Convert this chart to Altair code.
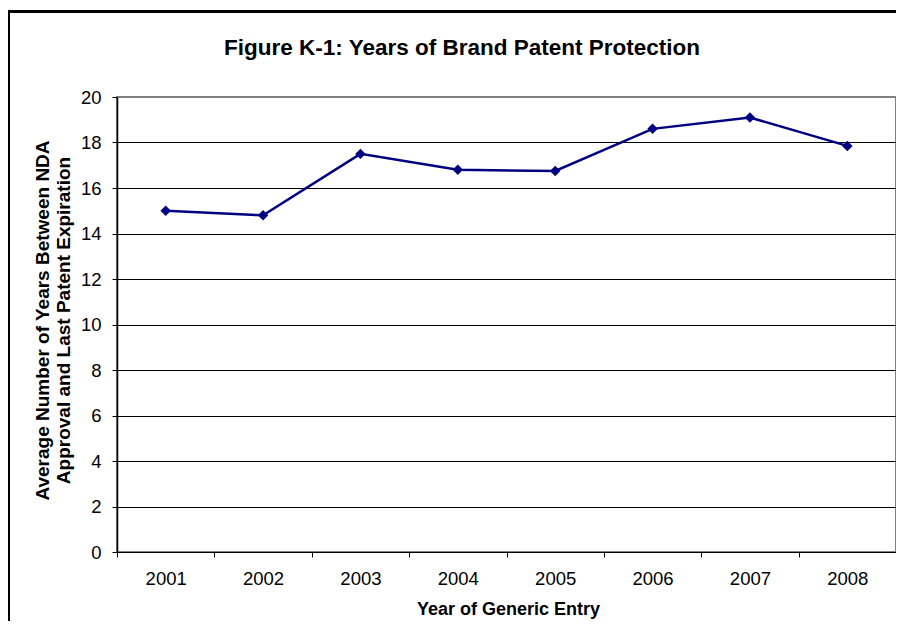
import altair as alt
import pandas as pd

years = ["2001", "2002", "2003", "2004", "2005", "2006", "2007", "2008"]
values = [15.0, 14.8, 17.5, 16.8, 16.75, 18.6, 19.1, 17.85]
y_ticks = [0, 2, 4, 6, 8, 10, 12, 14, 16, 18, 20]

chart_title = "Figure K-1: Years of Brand Patent Protection"
x_title = "Year of Generic Entry"
y_title = ["Average Number of Years Between NDA", "Approval and Last Patent Expiration"]

df = pd.DataFrame({"year": years, "value": values})

W, H = 779, 455
FONT = "Liberation Sans"

x_enc = alt.X(
    "year:O",
    scale=alt.Scale(type="band", paddingInner=0, paddingOuter=0, domain=years),
    axis=alt.Axis(
        title=x_title,
        labelAngle=0,
        tickBand="extent",
        grid=False,
        tickSize=5,
        tickColor="black",
        domainColor="black",
        labelFontSize=18.5,
        labelColor="black",
        labelBaseline="alphabetic",
        labelPadding=27,
        titleFontSize=18,
        titleFontWeight="bold",
        titleColor="black",
        titleBaseline="alphabetic",
        titleY=62,
        titleX=391,
        titleAlign="center",
    ),
)

y_enc = alt.Y(
    "value:Q",
    scale=alt.Scale(domain=[0, 20], nice=False, zero=True),
    axis=alt.Axis(
        values=y_ticks,
        title=y_title,
        grid=True,
        gridColor={"condition": {"test": "datum.value === 20", "value": "#808080"}, "value": "black"},
        gridWidth=1,
        tickSize=5,
        tickColor="black",
        domainColor="black",
        domainWidth=1.5,
        labelFontSize=18.5,
        labelColor="black",
        labelPadding=11,
        titleFontSize=19,
        titleFontWeight="bold",
        titleColor="black",
        titleAngle=270,
        titleAlign="center",
        titleBaseline="middle",
        titleLineHeight=21,
        titleX=-75,
        titleY=223,
    ),
)

line = alt.Chart(df).mark_line(
    color="#000080",
    strokeWidth=2.5,
    point=alt.OverlayMarkDef(shape="diamond", size=110, filled=True, color="#000080"),
).encode(x=x_enc, y=y_enc)

frame = alt.Chart(alt.Data(values=[{"k": 1}])).mark_rect(
    filled=False, stroke="black", strokeWidth=3
).encode(
    x=alt.value(-108.5), x2=alt.value(1000), y=alt.value(-85.5), y2=alt.value(1000)
)

title = alt.Chart(alt.Data(values=[{"t": chart_title}])).mark_text(
    fontSize=22.5, fontWeight="bold", font=FONT, color="black",
    align="center", baseline="alphabetic",
).encode(text="t:N", x=alt.value(345), y=alt.value(-42))

chart = (
    alt.layer(frame, title, line)
    .properties(
        width=W,
        height=H,
        autosize="none",
        padding={"left": 109, "top": 89, "right": 0, "bottom": 69},
    )
    .configure(font=FONT)
    .configure_view(stroke="#808080", strokeWidth=2)
)

chart.save("out.html", embed_options={"renderer": "svg", "actions": False})
